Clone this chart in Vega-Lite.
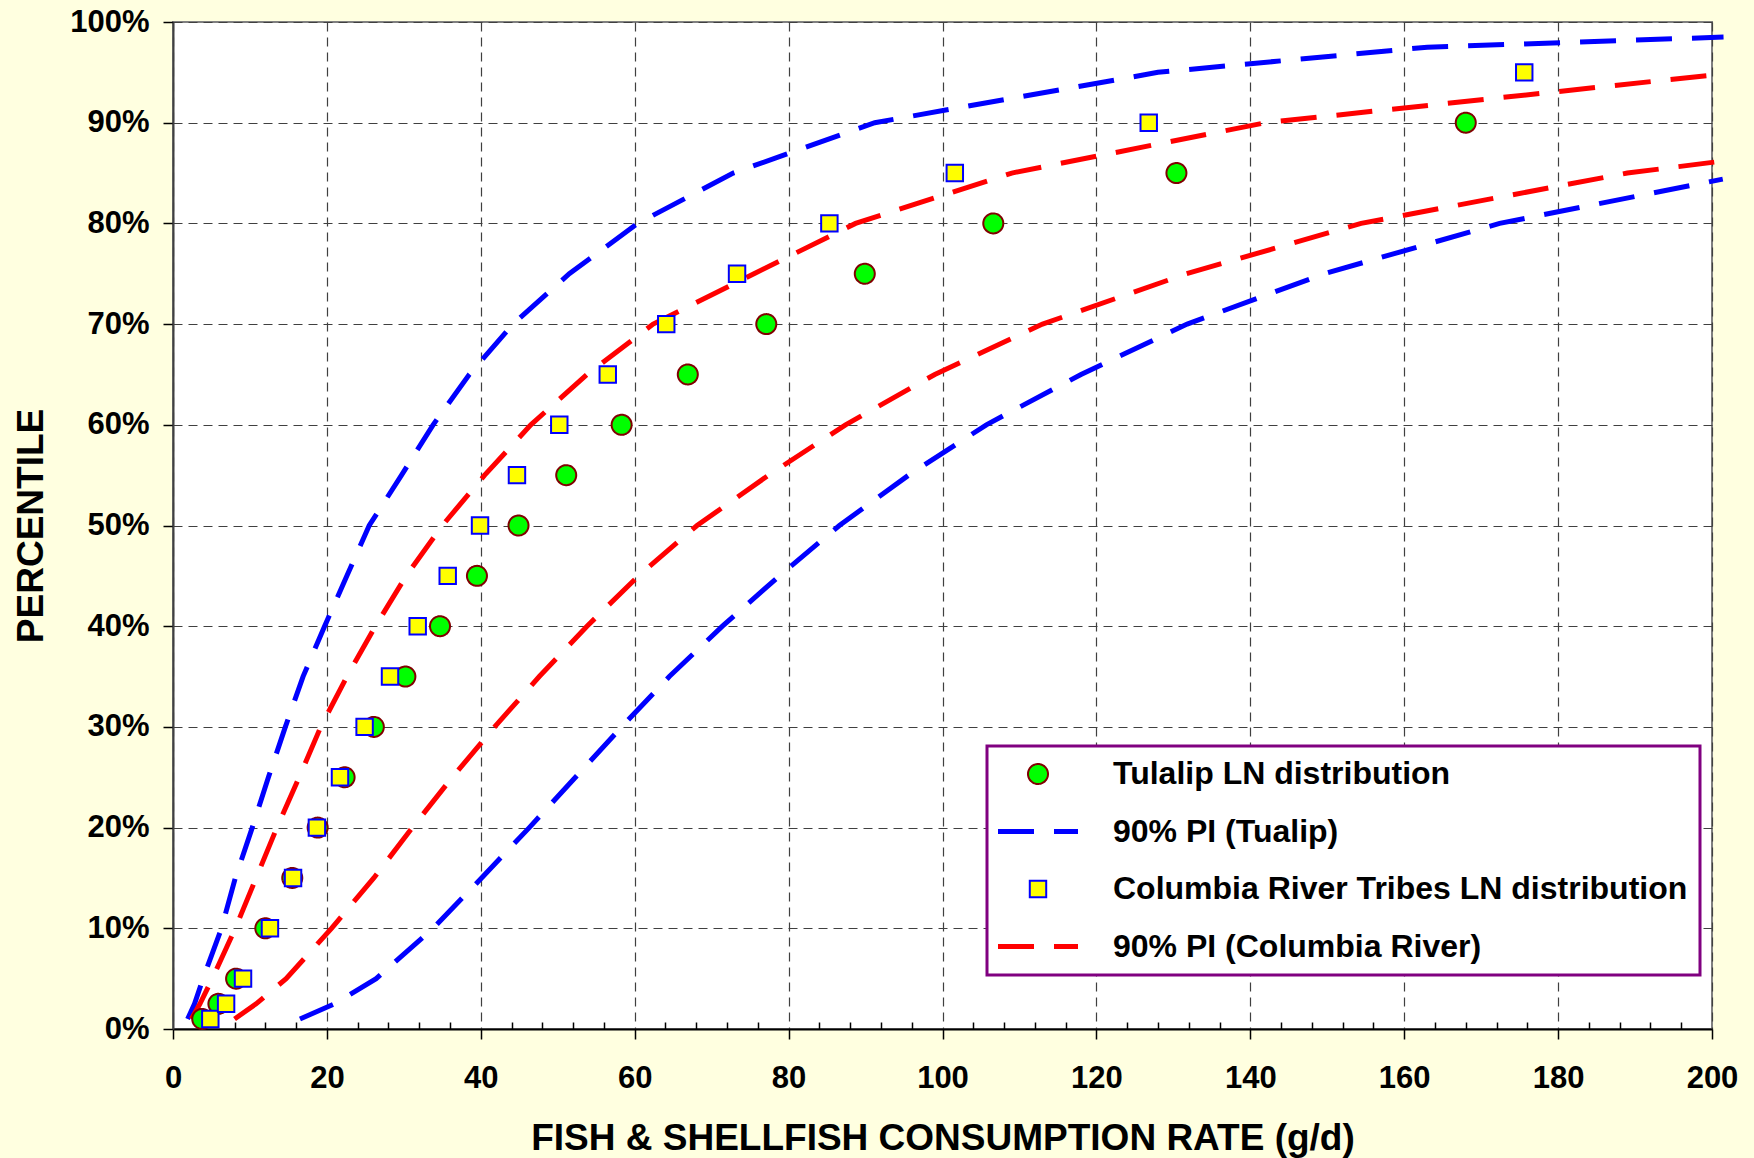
{
  "$schema": "https://vega.github.io/schema/vega-lite/v6.json",
  "width": 1539,
  "height": 1007,
  "autosize": {"type": "none"},
  "padding": {"left": 173, "top": 22, "right": 42, "bottom": 129},
  "background": "#FFFFE0",
  "config": {
    "view": {"fill": "white", "stroke": "#808080", "strokeWidth": 2},
    "font": "Liberation Sans",
    "legend": {
      "labelFont": "Liberation Sans",
      "labelFontSize": 32,
      "labelFontWeight": "bold",
      "labelColor": "black",
      "labelLimit": 2000,
      "labelOffset": 59,
      "symbolOffset": 23,
      "rowPadding": 25.5,
      "padding": 12,
      "fillColor": "white",
      "strokeColor": "#800080",
      "strokeWidth": 3
    }
  },
  "datasets": {
    "pts": [
      {"series": "Tulalip LN distribution", "x": 3.8, "p": 1},
      {"series": "Tulalip LN distribution", "x": 5.9, "p": 2.5},
      {"series": "Tulalip LN distribution", "x": 8.2, "p": 5},
      {"series": "Tulalip LN distribution", "x": 12.0, "p": 10},
      {"series": "Tulalip LN distribution", "x": 15.5, "p": 15},
      {"series": "Tulalip LN distribution", "x": 18.8, "p": 20},
      {"series": "Tulalip LN distribution", "x": 22.3, "p": 25},
      {"series": "Tulalip LN distribution", "x": 26.1, "p": 30},
      {"series": "Tulalip LN distribution", "x": 30.2, "p": 35},
      {"series": "Tulalip LN distribution", "x": 34.7, "p": 40},
      {"series": "Tulalip LN distribution", "x": 39.5, "p": 45},
      {"series": "Tulalip LN distribution", "x": 44.9, "p": 50},
      {"series": "Tulalip LN distribution", "x": 51.1, "p": 55},
      {"series": "Tulalip LN distribution", "x": 58.3, "p": 60},
      {"series": "Tulalip LN distribution", "x": 66.9, "p": 65},
      {"series": "Tulalip LN distribution", "x": 77.1, "p": 70},
      {"series": "Tulalip LN distribution", "x": 89.9, "p": 75},
      {"series": "Tulalip LN distribution", "x": 106.6, "p": 80},
      {"series": "Tulalip LN distribution", "x": 130.4, "p": 85},
      {"series": "Tulalip LN distribution", "x": 168.0, "p": 90},
      {"series": "Columbia River Tribes LN distribution", "x": 4.85, "p": 1},
      {"series": "Columbia River Tribes LN distribution", "x": 6.9, "p": 2.5},
      {"series": "Columbia River Tribes LN distribution", "x": 9.1, "p": 5},
      {"series": "Columbia River Tribes LN distribution", "x": 12.6, "p": 10},
      {"series": "Columbia River Tribes LN distribution", "x": 15.6, "p": 15},
      {"series": "Columbia River Tribes LN distribution", "x": 18.7, "p": 20},
      {"series": "Columbia River Tribes LN distribution", "x": 21.7, "p": 25},
      {"series": "Columbia River Tribes LN distribution", "x": 24.9, "p": 30},
      {"series": "Columbia River Tribes LN distribution", "x": 28.2, "p": 35},
      {"series": "Columbia River Tribes LN distribution", "x": 31.8, "p": 40},
      {"series": "Columbia River Tribes LN distribution", "x": 35.7, "p": 45},
      {"series": "Columbia River Tribes LN distribution", "x": 39.9, "p": 50},
      {"series": "Columbia River Tribes LN distribution", "x": 44.7, "p": 55},
      {"series": "Columbia River Tribes LN distribution", "x": 50.2, "p": 60},
      {"series": "Columbia River Tribes LN distribution", "x": 56.5, "p": 65},
      {"series": "Columbia River Tribes LN distribution", "x": 64.1, "p": 70},
      {"series": "Columbia River Tribes LN distribution", "x": 73.3, "p": 75},
      {"series": "Columbia River Tribes LN distribution", "x": 85.3, "p": 80},
      {"series": "Columbia River Tribes LN distribution", "x": 101.6, "p": 85},
      {"series": "Columbia River Tribes LN distribution", "x": 126.8, "p": 90},
      {"series": "Columbia River Tribes LN distribution", "x": 175.6, "p": 95}
    ],
    "tualip": [
      {"bound": "upper", "x": 1.9, "p": 1},
      {"bound": "upper", "x": 2.8, "p": 2.5},
      {"bound": "upper", "x": 3.9, "p": 5},
      {"bound": "upper", "x": 6.3, "p": 10},
      {"bound": "upper", "x": 8.1, "p": 15},
      {"bound": "upper", "x": 10.3, "p": 20},
      {"bound": "upper", "x": 12.4, "p": 25},
      {"bound": "upper", "x": 14.6, "p": 30},
      {"bound": "upper", "x": 16.9, "p": 35},
      {"bound": "upper", "x": 19.7, "p": 40},
      {"bound": "upper", "x": 22.6, "p": 45},
      {"bound": "upper", "x": 25.5, "p": 50},
      {"bound": "upper", "x": 29.7, "p": 55},
      {"bound": "upper", "x": 33.8, "p": 60},
      {"bound": "upper", "x": 38.5, "p": 65},
      {"bound": "upper", "x": 44.2, "p": 70},
      {"bound": "upper", "x": 51.5, "p": 75},
      {"bound": "upper", "x": 60.4, "p": 80},
      {"bound": "upper", "x": 72.8, "p": 85},
      {"bound": "upper", "x": 91.2, "p": 90},
      {"bound": "upper", "x": 128, "p": 95},
      {"bound": "upper", "x": 163, "p": 97.5},
      {"bound": "upper", "x": 201.5, "p": 98.5},
      {"bound": "lower", "x": 16.5, "p": 1},
      {"bound": "lower", "x": 21, "p": 2.5},
      {"bound": "lower", "x": 26.4, "p": 5},
      {"bound": "lower", "x": 33.8, "p": 10},
      {"bound": "lower", "x": 40.1, "p": 15},
      {"bound": "lower", "x": 46.3, "p": 20},
      {"bound": "lower", "x": 52.3, "p": 25},
      {"bound": "lower", "x": 58.3, "p": 30},
      {"bound": "lower", "x": 64.5, "p": 35},
      {"bound": "lower", "x": 71.4, "p": 40},
      {"bound": "lower", "x": 78.8, "p": 45},
      {"bound": "lower", "x": 86.6, "p": 50},
      {"bound": "lower", "x": 95.6, "p": 55},
      {"bound": "lower", "x": 105.7, "p": 60},
      {"bound": "lower", "x": 118.0, "p": 65},
      {"bound": "lower", "x": 131.8, "p": 70},
      {"bound": "lower", "x": 149.6, "p": 75},
      {"bound": "lower", "x": 172.4, "p": 80},
      {"bound": "lower", "x": 201.4, "p": 84.4}
    ],
    "columbia": [
      {"bound": "upper", "x": 2.4, "p": 1},
      {"bound": "upper", "x": 3.5, "p": 2.5},
      {"bound": "upper", "x": 5.1, "p": 5},
      {"bound": "upper", "x": 8.1, "p": 10},
      {"bound": "upper", "x": 10.8, "p": 15},
      {"bound": "upper", "x": 13.5, "p": 20},
      {"bound": "upper", "x": 16.4, "p": 25},
      {"bound": "upper", "x": 19.2, "p": 30},
      {"bound": "upper", "x": 22.6, "p": 35},
      {"bound": "upper", "x": 26.3, "p": 40},
      {"bound": "upper", "x": 30.3, "p": 45},
      {"bound": "upper", "x": 35.0, "p": 50},
      {"bound": "upper", "x": 40.5, "p": 55},
      {"bound": "upper", "x": 46.5, "p": 60},
      {"bound": "upper", "x": 53.8, "p": 65},
      {"bound": "upper", "x": 62.4, "p": 70},
      {"bound": "upper", "x": 75.5, "p": 75},
      {"bound": "upper", "x": 88.7, "p": 80},
      {"bound": "upper", "x": 109, "p": 85},
      {"bound": "upper", "x": 142, "p": 90},
      {"bound": "upper", "x": 201.5, "p": 94.85},
      {"bound": "lower", "x": 8.0, "p": 1},
      {"bound": "lower", "x": 10.8, "p": 2.5},
      {"bound": "lower", "x": 14.7, "p": 5},
      {"bound": "lower", "x": 20.6, "p": 10},
      {"bound": "lower", "x": 26.1, "p": 15},
      {"bound": "lower", "x": 31.1, "p": 20},
      {"bound": "lower", "x": 36.3, "p": 25},
      {"bound": "lower", "x": 41.8, "p": 30},
      {"bound": "lower", "x": 47.6, "p": 35},
      {"bound": "lower", "x": 53.8, "p": 40},
      {"bound": "lower", "x": 60.5, "p": 45},
      {"bound": "lower", "x": 68.1, "p": 50},
      {"bound": "lower", "x": 77.4, "p": 55},
      {"bound": "lower", "x": 87.4, "p": 60},
      {"bound": "lower", "x": 99, "p": 65},
      {"bound": "lower", "x": 113, "p": 70},
      {"bound": "lower", "x": 131.7, "p": 75},
      {"bound": "lower", "x": 154.4, "p": 80},
      {"bound": "lower", "x": 189, "p": 85},
      {"bound": "lower", "x": 201.5, "p": 86.2}
    ]
  },
  "encoding": {
    "x": {
      "field": "x",
      "type": "quantitative",
      "scale": {"domain": [0, 200], "nice": false, "zero": false},
      "axis": {
        "title": "FISH & SHELLFISH CONSUMPTION RATE (g/d)",
        "titleFont": "Liberation Sans",
        "titleFontSize": 37,
        "titleFontWeight": "bold",
        "titleColor": "black",
        "titlePadding": 27,
        "values": [0,4,8,12,16,20,24,28,32,36,40,44,48,52,56,60,64,68,72,76,80,84,88,92,96,100,104,108,112,116,120,124,128,132,136,140,144,148,152,156,160,164,168,172,176,180,184,188,192,196,200],
        "labelExpr": "datum.value % 20 === 0 ? datum.label : ''",
        "labelFont": "Liberation Sans",
        "labelFontSize": 31,
        "labelFontWeight": "bold",
        "labelColor": "black",
        "labelPadding": 24,
        "labelFlush": false,
        "labelOverlap": false,
        "tickColor": "black",
        "tickWidth": 1.5,
        "tickSize": {"condition": {"test": "datum.value % 20 === 0", "value": 10}, "value": -7},
        "domainColor": "black",
        "domainWidth": 2,
        "grid": true,
        "gridColor": "#404040",
        "gridWidth": 1.2,
        "gridDash": [9, 6],
        "gridOpacity": {"condition": {"test": "datum.value % 20 === 0", "value": 1}, "value": 0}
      }
    },
    "y": {
      "field": "p",
      "type": "quantitative",
      "scale": {"domain": [0, 100], "nice": false},
      "axis": {
        "title": "PERCENTILE",
        "titleFont": "Liberation Sans",
        "titleFontSize": 37,
        "titleFontWeight": "bold",
        "titleColor": "black",
        "titlePadding": 19,
        "values": [0,10,20,30,40,50,60,70,80,90,100],
        "labelExpr": "datum.value + '%'",
        "labelFont": "Liberation Sans",
        "labelFontSize": 31,
        "labelFontWeight": "bold",
        "labelColor": "black",
        "labelPadding": 14,
        "labelFlush": false,
        "labelOverlap": false,
        "tickColor": "black",
        "tickWidth": 1.5,
        "tickSize": 10,
        "domainColor": "#404040",
        "domainWidth": 2,
        "grid": true,
        "gridColor": "#404040",
        "gridWidth": 1.2,
        "gridDash": [9, 6]
      }
    }
  },
  "layer": [
    {
      "data": {"name": "tualip"},
      "mark": {"type": "line", "stroke": "#0000FF", "strokeWidth": 5, "strokeDash": [36, 20]},
      "encoding": {"detail": {"field": "bound", "type": "nominal"}}
    },
    {
      "data": {"name": "columbia"},
      "mark": {"type": "line", "stroke": "#FF0000", "strokeWidth": 5, "strokeDash": [36, 20]},
      "encoding": {"detail": {"field": "bound", "type": "nominal"}}
    },
    {
      "data": {"name": "pts"},
      "mark": {"type": "point", "opacity": 1, "fillOpacity": 1, "strokeOpacity": 1},
      "encoding": {
        "shape": {
          "field": "series", "type": "nominal",
          "scale": {"domain": ["Tulalip LN distribution", "90% PI (Tualip)", "Columbia River Tribes LN distribution", "90% PI (Columbia River)"], "range": ["circle", "M -2.963 0 H 2.963", "square", "M -2.963 0 H 2.963"]},
          "legend": {"title": null, "orient": "none", "legendX": 814, "legendY": 724}
        },
        "fill": {
          "field": "series", "type": "nominal",
          "scale": {"domain": ["Tulalip LN distribution", "90% PI (Tualip)", "Columbia River Tribes LN distribution", "90% PI (Columbia River)"], "range": ["#00FF00", "transparent", "#FFFF00", "transparent"]},
          "legend": {"title": null, "orient": "none", "legendX": 814, "legendY": 724}
        },
        "stroke": {
          "field": "series", "type": "nominal",
          "scale": {"domain": ["Tulalip LN distribution", "90% PI (Tualip)", "Columbia River Tribes LN distribution", "90% PI (Columbia River)"], "range": ["#800000", "#0000FF", "#0000FF", "#FF0000"]},
          "legend": {"title": null, "orient": "none", "legendX": 814, "legendY": 724}
        },
        "size": {
          "field": "series", "type": "nominal",
          "scale": {"type": "ordinal", "domain": ["Tulalip LN distribution", "90% PI (Tualip)", "Columbia River Tribes LN distribution", "90% PI (Columbia River)"], "range": [400, 729, 270, 729]},
          "legend": {"title": null, "orient": "none", "legendX": 814, "legendY": 724}
        },
        "strokeWidth": {
          "field": "series", "type": "nominal",
          "scale": {"type": "ordinal", "domain": ["Tulalip LN distribution", "90% PI (Tualip)", "Columbia River Tribes LN distribution", "90% PI (Columbia River)"], "range": [2, 5, 2, 5]},
          "legend": {"title": null, "orient": "none", "legendX": 814, "legendY": 724}
        },
        "strokeDash": {
          "field": "series", "type": "nominal",
          "scale": {"domain": ["Tulalip LN distribution", "90% PI (Tualip)", "Columbia River Tribes LN distribution", "90% PI (Columbia River)"], "range": [[1, 0], [36, 20], [1, 0], [36, 20]]},
          "legend": {"title": null, "orient": "none", "legendX": 814, "legendY": 724}
        }
      }
    }
  ]
}
